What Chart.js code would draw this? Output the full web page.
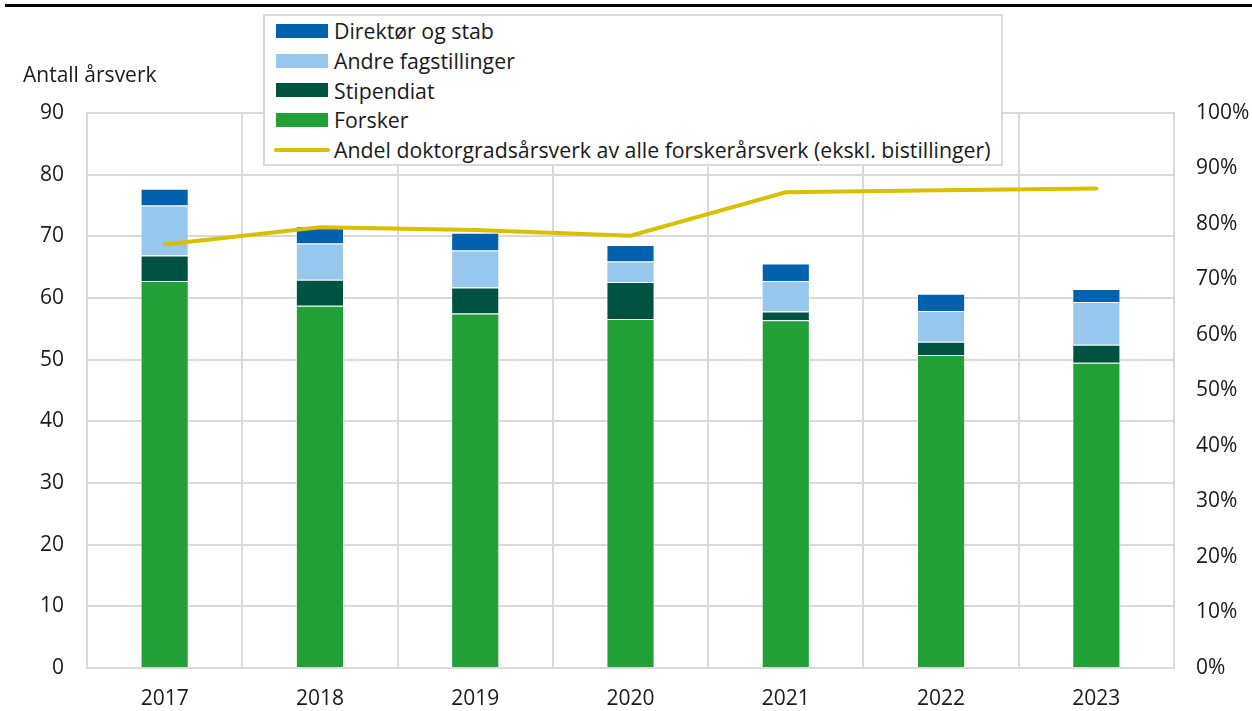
<!DOCTYPE html>
<html>
<head>
<meta charset="utf-8">
<script src="https://cdn.jsdelivr.net/npm/chart.js@4"></script>
<style>
  body { margin: 0; background: #fff; font-family: "Open Sans", sans-serif; }
  #wrap { position: relative; width: 1252px; height: 711px; }
  #topline { position: absolute; left: 5px; top: 4px; width: 1247px; height: 3px; background: #000; }
  #ytitle { position: absolute; left: 23px; top: 60px; font-size: 21px; color: #1a1a1a; }
  #legend { position: absolute; left: 263px; top: 14px; width: 740px; height: 152px;
            background: #fff; border: 2px solid #d9d9d9; box-sizing: border-box; padding-top: 0; }
  .item { height: 29.7px; display: flex; align-items: center; font-size: 21.3px; color: #1a1a1a; }
  .sw { width: 52px; height: 14px; margin-left: 11px; margin-right: 6px; }
  .ln { width: 56px; height: 4px; margin-left: 9px; margin-right: 4px; border-radius: 2px; }
</style>
</head>
<body>
<div id="wrap">
  <canvas id="chart" width="1252" height="711"></canvas>
  <div id="topline"></div>
  <div id="ytitle">Antall årsverk</div>
  <div id="legend"></div>
</div>
<script>
const years = ["2017", "2018", "2019", "2020", "2021", "2022", "2023"];
const forsker = [62.75, 58.75, 57.5, 56.6, 56.4, 50.75, 49.5];
const stipendiat = [4.15, 4.2, 4.2, 6.0, 1.4, 2.15, 2.9];
const andre = [8.1, 5.9, 6.0, 3.3, 4.95, 5.0, 6.95];
const direktor = [2.7, 2.8, 2.9, 2.7, 2.85, 2.8, 2.1];
const andelDoktor = [76.3, 79.4, 78.9, 77.9, 85.7, 86.1, 86.4];

const colors = {
  direktor: "#0062ae",
  andre: "#97c7ec",
  stipendiat: "#005343",
  forsker: "#21a038",
  andel: "#d8bf00"
};

const legendItems = [
  { label: "Direktør og stab", color: colors.direktor },
  { label: "Andre fagstillinger", color: colors.andre },
  { label: "Stipendiat", color: colors.stipendiat },
  { label: "Forsker", color: colors.forsker },
  { label: "Andel doktorgradsårsverk av alle forskerårsverk (ekskl. bistillinger)", color: colors.andel, line: true }
];

const legendDiv = document.getElementById("legend");
legendItems.forEach(it => {
  const row = document.createElement("div");
  row.className = "item";
  row.innerHTML = `<span class="${it.line ? "ln" : "sw"}" style="background:${it.color}"></span>${it.label}`;
  legendDiv.appendChild(row);
});

const font = { family: "'Open Sans', sans-serif", size: 21 };
const gridColor = "#d9d9d9";

function bar(label, data, color) {
  return {
    type: "bar", label, data, backgroundColor: color,
    borderColor: "rgba(255,255,255,0.5)", borderWidth: 1,
    barPercentage: 0.31, categoryPercentage: 1, yAxisID: "y", order: 2
  };
}

new Chart(document.getElementById("chart"), {
  data: {
    labels: years,
    datasets: [
      {
        type: "line", label: "Andel", data: andelDoktor, yAxisID: "y1",
        borderColor: colors.andel, borderWidth: 4, pointRadius: 0,
        tension: 0, borderCapStyle: "round", order: 1
      },
      bar("Forsker", forsker, colors.forsker),
      bar("Stipendiat", stipendiat, colors.stipendiat),
      bar("Andre fagstillinger", andre, colors.andre),
      bar("Direktør og stab", direktor, colors.direktor)
    ]
  },
  options: {
    responsive: false,
    animation: false,
    layout: { padding: { top: 113, left: 0, right: 0, bottom: 0 } },
    plugins: { legend: { display: false }, tooltip: { enabled: false } },
    scales: {
      x: {
        stacked: true,
        grid: { color: gridColor, lineWidth: 2, offset: true, drawTicks: false },
        border: { color: gridColor, width: 2 },
        ticks: { font, color: "#1a1a1a", padding: 18 },
        afterFit: s => { s.height = 43; }
      },
      y: {
        stacked: true, min: 0, max: 90,
        ticks: { stepSize: 10, font, color: "#1a1a1a", padding: 23 },
        grid: { color: gridColor, lineWidth: 2, drawTicks: false },
        border: { color: gridColor, width: 2 },
        afterFit: s => { s.width = 87; }
      },
      y1: {
        position: "right", min: 0, max: 100,
        ticks: { stepSize: 10, font, color: "#1a1a1a", padding: 22, callback: v => v + "%" },
        grid: { display: false, drawTicks: false },
        border: { color: gridColor, width: 2 },
        afterFit: s => { s.width = 78; }
      }
    }
  }
});
</script>
</body>
</html>
